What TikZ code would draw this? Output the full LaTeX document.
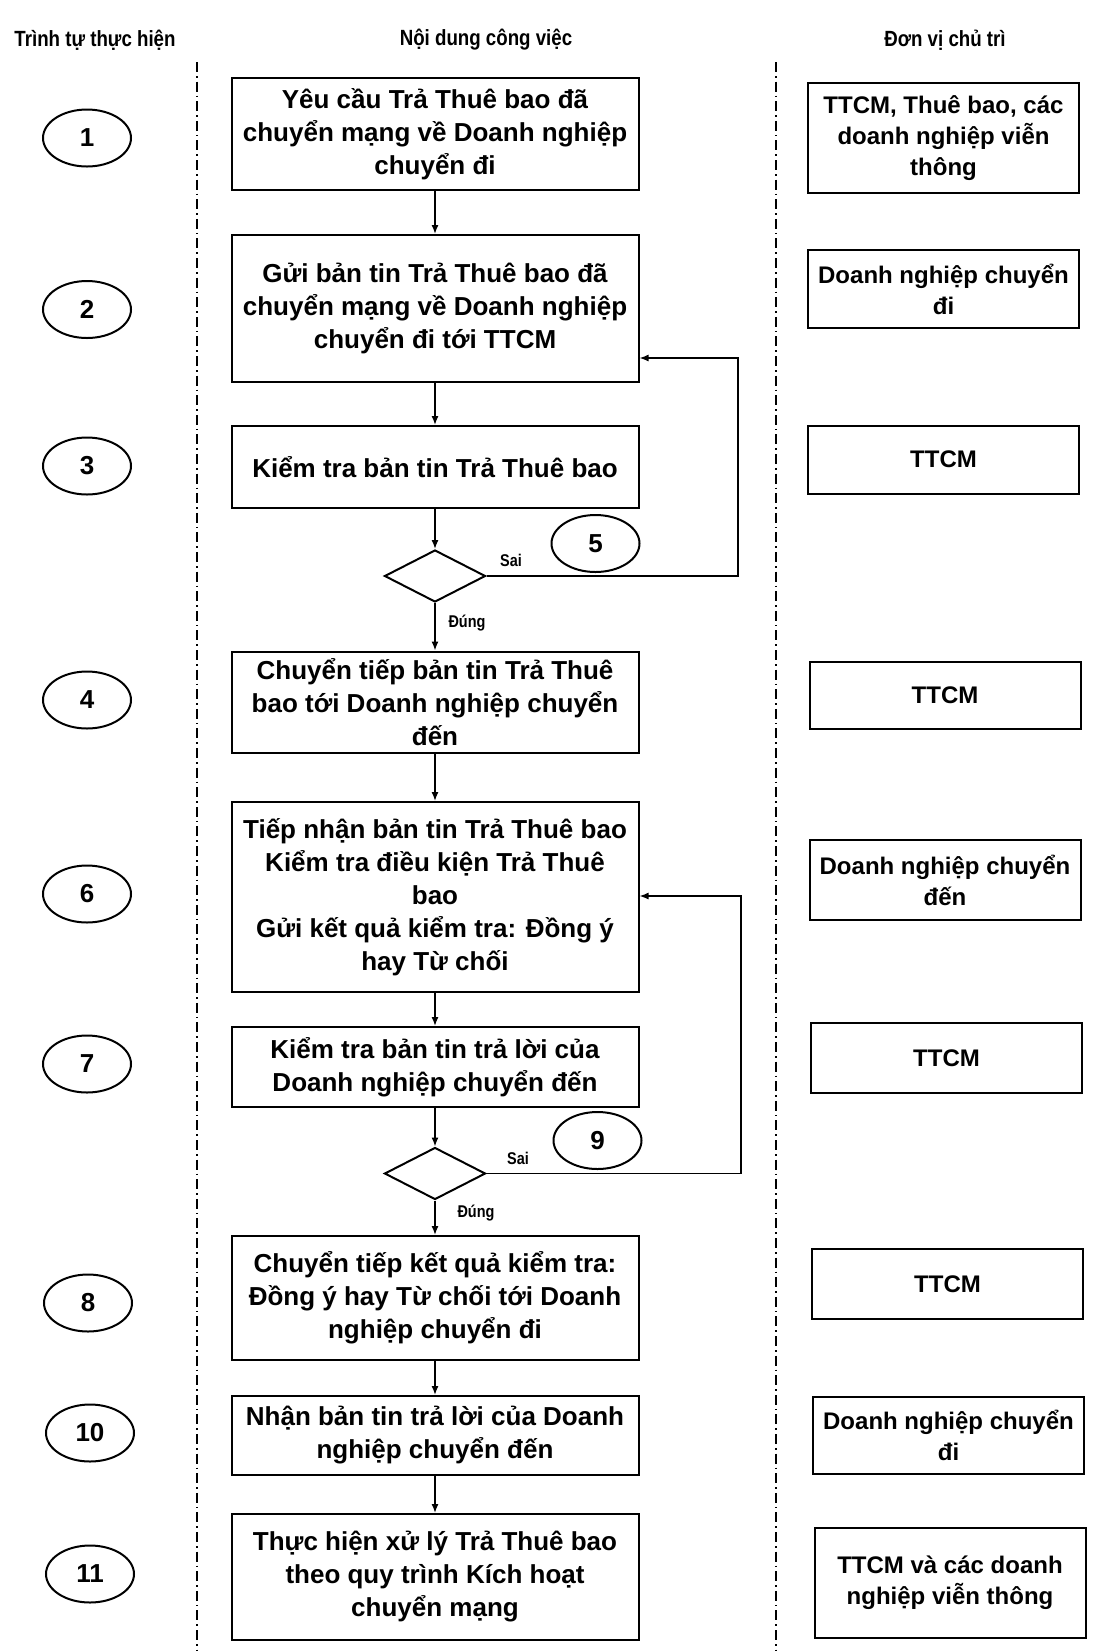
\documentclass[tikz,border=0pt]{standalone}
\usepackage{fontspec}
\setmainfont{Liberation Sans}
\newfontfamily\narrowfont[FakeStretch=0.85]{Liberation Sans}
\usetikzlibrary{shapes.geometric,arrows.meta}

\tikzset{
  stepbox/.style={draw, line width=1pt, minimum width=203.5pt, align=center, inner sep=2pt,
    font=\bfseries\fontsize{13}{16.5}\selectfont},
  unitbox/.style={draw, line width=1pt, minimum width=135.5pt, align=center, inner sep=2pt,
    font=\bfseries\fontsize{12}{15.5}\selectfont},
  stepnum/.style={draw, ellipse, line width=1pt, minimum width=44pt, minimum height=28.5pt,
    inner sep=0pt, font=\bfseries\fontsize{13}{15}\selectfont},
  decision/.style={draw, diamond, line width=1pt, minimum width=50.5pt, minimum height=26pt, inner sep=0pt},
  flow/.style={-{Latex[length=4.5pt,width=3.5pt]}, line width=0.7pt},
  lane/.style={line width=0.8pt, dash pattern=on 5pt off 2pt on 0.8pt off 2pt},
  colhead/.style={font=\narrowfont\bfseries\fontsize{11}{12}\selectfont},
  branch/.style={font=\narrowfont\bfseries\fontsize{8.5}{10}\selectfont},
}

\begin{document}
\begin{tikzpicture}[x=0.5pt,y=-0.5pt]
    \useasboundingbox (0,0) rectangle (1109,1651);

    % Column headings
    \node[colhead] (hOrder) at (95,40) {Trình tự thực hiện};
    \node[colhead] (hTask) at (486,40) {Nội dung công việc};
    \node[colhead] (hUnit) at (945,40) {Đơn vị chủ trì};

    % Lane separators
    \coordinate (laneAtop) at (197,62);
    \coordinate (laneAbot) at (197,1651);
    \coordinate (laneBtop) at (776,62);
    \coordinate (laneBbot) at (776,1651);
    \draw[lane] (laneAtop) -- (laneAbot);
    \draw[lane] (laneBtop) -- (laneBbot);

    % Work steps
    \node[stepbox, minimum height=56pt] (box1) at (435,134) {Yêu cầu Trả Thuê bao đã\\chuyển mạng về Doanh nghiệp\\chuyển đi};
    \node[stepbox, minimum height=73.5pt] (box2) at (435,308.5) {Gửi bản tin Trả Thuê bao đã\\chuyển mạng về Doanh nghiệp\\chuyển đi tới TTCM};
    \node[stepbox, minimum height=41pt] (box3) at (435,467) {Kiểm tra bản tin Trả Thuê bao};
    \node[decision] (d1) at (435,576) {};
    \node[stepbox, minimum height=50.5pt] (box4) at (435,702) {Chuyển tiếp bản tin Trả Thuê\\bao tới Doanh nghiệp chuyển\\đến};
    \node[stepbox, minimum height=95pt] (box6) at (435,897) {Tiếp nhận bản tin Trả Thuê bao\\Kiểm tra điều kiện Trả Thuê\\bao\\Gửi kết quả kiểm tra: Đồng ý\\hay Từ chối};
    \node[stepbox, minimum height=40pt] (box7) at (435,1067) {Kiểm tra bản tin trả lời của\\Doanh nghiệp chuyển đến};
    \node[decision] (d2) at (435,1173.5) {};
    \node[stepbox, minimum height=62pt] (box8) at (435,1298) {Chuyển tiếp kết quả kiểm tra:\\Đồng ý hay Từ chối tới Doanh\\nghiệp chuyển đi};
    \node[stepbox, minimum height=39.5pt] (box10) at (435,1435.5) {Nhận bản tin trả lời của Doanh\\nghiệp chuyển đến};
    \node[stepbox, minimum height=63pt] (box11) at (435,1577) {Thực hiện xử lý Trả Thuê bao\\theo quy trình Kích hoạt\\chuyển mạng};

    % Responsible units
    \node[unitbox, minimum height=55pt] (unit1) at (943.5,138) {TTCM, Thuê bao, các\\doanh nghiệp viễn\\thông};
    \node[unitbox, minimum height=39pt] (unit2) at (943.5,289) {Doanh nghiệp chuyển\\đi};
    \node[unitbox, minimum height=34pt] (unit3) at (943.5,459.5) {TTCM};
    \node[unitbox, minimum height=33.5pt] (unit4) at (945,695.5) {TTCM};
    \node[unitbox, minimum height=40pt] (unit6) at (945,880) {Doanh nghiệp chuyển\\đến};
    \node[unitbox, minimum height=35pt] (unit7) at (946.5,1058) {TTCM};
    \node[unitbox, minimum height=35pt] (unit8) at (947.5,1284) {TTCM};
    \node[unitbox, minimum height=38.5pt] (unit10) at (948.5,1435.5) {Doanh nghiệp chuyển\\đi};
    \node[unitbox, minimum height=55pt] (unit11) at (950,1583) {TTCM và các doanh\\nghiệp viễn thông};

    % Step numbers
    \node[stepnum] (n1) at (87,138) {1};
    \node[stepnum] (n2) at (87,309.5) {2};
    \node[stepnum] (n3) at (87,466) {3};
    \node[stepnum] (n4) at (87,700) {4};
    \node[stepnum] (n6) at (87,894) {6};
    \node[stepnum] (n7) at (87,1064) {7};
    \node[stepnum] (n8) at (88,1303) {8};
    \node[stepnum] (n10) at (90,1433) {10};
    \node[stepnum] (n11) at (90,1574) {11};
    \node[stepnum] (n5) at (595.5,543.5) {5};
    \node[stepnum] (n9) at (597.5,1140.5) {9};

    % Branch labels
    \node[branch] (sai1) at (511,560) {Sai};
    \node[branch] (dung1) at (467,623) {Đúng};
    \node[branch] (sai2) at (518,1158) {Sai};
    \node[branch] (dung2) at (476,1213) {Đúng};

    % Main flow
    \draw[flow] (box1) -- (box2);
    \draw[flow] (box2) -- (box3);
    \draw[flow] (box3) -- (d1);
    \draw[flow] (d1) -- (box4);
    \draw[flow] (box4) -- (box6);
    \draw[flow] (box6) -- (box7);
    \draw[flow] (box7) -- (d2);
    \draw[flow] (d2) -- (box8);
    \draw[flow] (box8) -- (box10);
    \draw[flow] (box10) -- (box11);

    % Return paths on "Sai"
    \coordinate (loop1) at (738,358);
    \coordinate (loop2) at (741,896);
    \draw[flow] (d1.east) -| (loop1) -- (loop1 -| box2.east);
    \draw[flow] (d2.east) -| (loop2) -- (loop2 -| box6.east);
\end{tikzpicture}
\end{document}
